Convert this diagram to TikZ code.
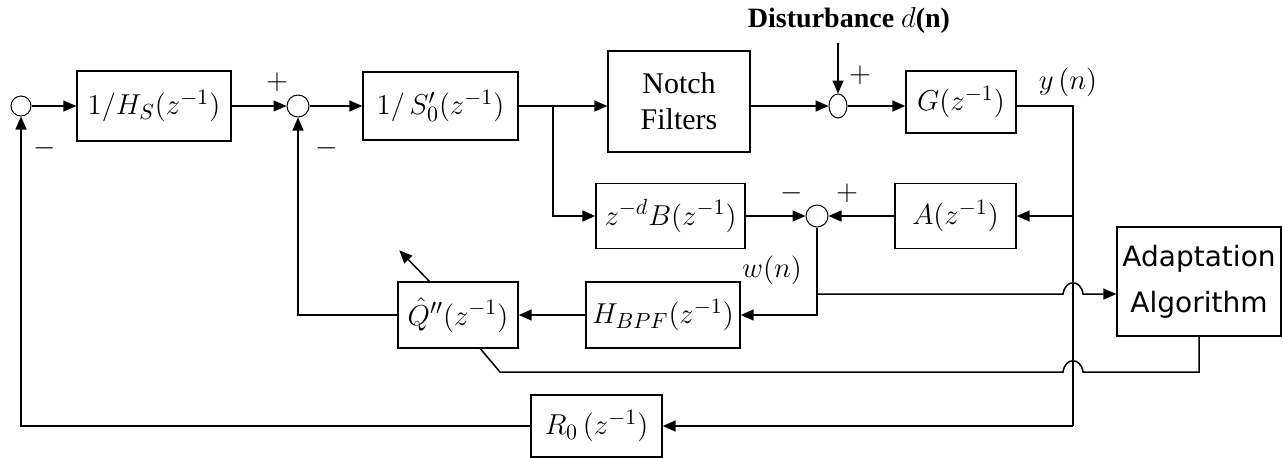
\documentclass[tikz,border=0pt]{standalone}
\usepackage{fontspec}
\setmainfont{Liberation Serif}
\newfontfamily\algofont{DejaVu Sans}
\usetikzlibrary{positioning, calc, arrows.meta, shapes.geometric}
\tikzset{
    block/.style={rectangle, draw, line width=0.7pt, inner sep=1pt, font=\fontsize{15}{18}\selectfont},
    sumnode/.style={circle, draw, line width=0.5pt, minimum size=10pt, inner sep=0pt},
    arrow/.style={-{Triangle[length=6.5pt,width=5.5pt]}, line width=0.75pt},
    wire/.style={line width=0.75pt},
    sign/.style={font=\fontsize{15}{18}\selectfont, inner sep=0pt},
    hop/.style={line width=0.75pt},
}

\begin{document}
\begin{tikzpicture}[x=0.5pt, y=-0.5pt]
    \useasboundingbox (0,0) rectangle (1283,457);

    % Forward path
    \node[sumnode] (s1) at (21,106) {};
    \node[block, minimum width=77pt, minimum height=35pt] (hs) at (154,106) {$1/H_S(z^{-1})$};
    \node[sumnode, minimum size=11pt] (s2) at (298,106) {};
    \node[block, minimum width=77.5pt, minimum height=34pt] (sz) at (440.5,106) {$1/\,S'_0(z^{-1})$};
    \node[block, align=center, minimum width=71pt, minimum height=50.5pt] (notch) at (679,101.5) {Notch\\Filters};
    \node[ellipse, draw, line width=0.5pt, minimum width=9pt, minimum height=12pt, inner sep=0pt] (s3) at (838,106) {};
    \node[block, minimum width=55pt, minimum height=31pt] (G) at (961,102) {$G(z^{-1})$};

    % Estimation path
    \node[block, minimum width=74.5pt, minimum height=32.5pt] (B) at (670.5,216) {$z^{-d}B(z^{-1})$};
    \node[sumnode, minimum size=11pt] (s4) at (817,216) {};
    \node[block, minimum width=60.5pt, minimum height=32.5pt] (A) at (955.5,216) {$A(z^{-1})$};
    \node[block, align=center, font=\algofont\fontsize{14}{23}\selectfont, minimum width=82pt, minimum height=54.5pt] (adapt) at (1199,281.5) {Adaptation\\Algorithm};
    \node[block, minimum width=60pt, minimum height=33pt] (Q) at (458,315) {$\hat{Q}''(z^{-1})$};
    \node[block, minimum width=77pt, minimum height=33pt] (hbpf) at (663,315) {$H_{BPF}(z^{-1})$};
    \node[block, minimum width=65.5pt, minimum height=31pt] (R0) at (596.5,426) {$R_0\,(z^{-1})$};

    % Branch points
    \coordinate (br1) at (553,106);
    \coordinate (yout) at (1073,106);
    \coordinate (ybot) at (1073,426);
    \coordinate (dtop) at (838,43);
    \coordinate (wbr) at (817,294);
    \coordinate (qlo) at (500,372);
    \coordinate (hop1) at (yout |- wbr);
    \coordinate (hop2) at (yout |- qlo);

    % Connectors
    \draw[arrow] (s1) -- (hs);
    \draw[arrow] (hs) -- (s2);
    \draw[arrow] (s2) -- (sz);
    \draw[arrow] (sz.east) -- (sz.east -| notch.west);
    \draw[arrow] (notch.east |- s3) -- (s3);
    \draw[arrow] (dtop) -- (s3);
    \draw[arrow] (s3) -- (s3 -| G.west);
    \draw[wire] (s3 -| G.east) -- (yout) -- (ybot);
    \draw[arrow] (yout |- A) -- (A);
    \draw[arrow] (A) -- (s4);
    \draw[arrow] (br1) |- (B);
    \draw[arrow] (B) -- (s4);
    \draw[arrow] (s4) |- (hbpf);
    \draw[arrow] (hbpf) -- (Q);
    \draw[arrow] (Q) -| (s2);
    \draw[arrow] ([xshift=16pt]Q.north west) -- ++(-30,-31);
    \draw[arrow] (wbr) -- ($(hop1)+(-10,0)$) .. controls ($(hop1)+(-8,-15)$) and ($(hop1)+(8,-15)$) .. ($(hop1)+(10,0)$) -- (wbr -| adapt.west);
    \draw[hop] ([xshift=41.5pt]Q.south west) -- (qlo) -- ($(hop2)+(-10,0)$) .. controls ($(hop2)+(-8,-15)$) and ($(hop2)+(8,-15)$) .. ($(hop2)+(10,0)$) -- (adapt.south |- qlo) -- (adapt.south);
    \draw[arrow] (ybot) -- (R0);
    \draw[arrow] (R0) -| (s1);

    % Signs and signal labels
    \node[sign] (p2) at (277,82) {$+$};
    \node[sign] (m1) at (45,148) {$-$};
    \node[sign] (m2) at (327,148) {$-$};
    \node[sign] (p3) at (860,75) {$+$};
    \node[sign] (m4) at (792,193) {$-$};
    \node[sign] (p4) at (847,193) {$+$};
    \node[font=\fontsize{14}{16}\selectfont\bfseries] (dist) at (849,20) {Disturbance $d$(n)};
    \node[sign] (yn) at (1068,82) {$y\,(n)$};
    \node[sign] (wn) at (772,270) {$w(n)$};
\end{tikzpicture}
\end{document}
